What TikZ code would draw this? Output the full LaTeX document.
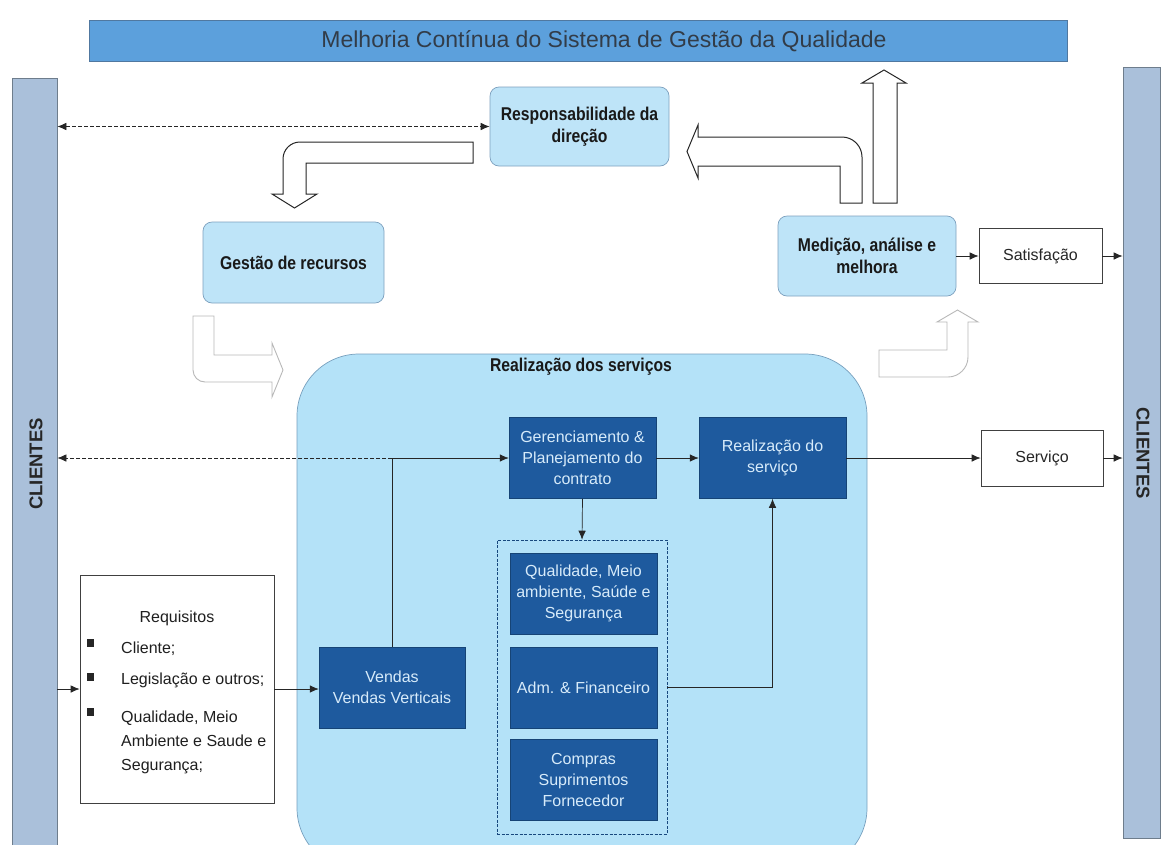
\documentclass[tikz,border=0pt]{standalone}
\usepackage{fontspec}
\setmainfont{Liberation Sans}
\newfontfamily\narrowfont[FakeStretch=0.85]{Liberation Sans}
\usetikzlibrary{arrows.meta}

\definecolor{bannerblue}{RGB}{92,160,220}
\definecolor{banneredge}{RGB}{80,120,160}
\definecolor{barblue}{RGB}{170,192,218}
\definecolor{baredge}{RGB}{110,125,140}
\definecolor{lightfill}{RGB}{190,228,248}
\definecolor{lightedge}{RGB}{125,160,190}
\definecolor{regionfill}{RGB}{180,226,248}
\definecolor{regionedge}{RGB}{120,160,190}
\definecolor{darkblue}{RGB}{30,90,158}
\definecolor{darktext}{RGB}{215,235,250}
\definecolor{bannertext}{RGB}{50,60,72}

\begin{document}
\begin{tikzpicture}[x=1pt,y=-1pt,
  lightbox/.style={draw=lightedge, fill=lightfill, rounded corners=9pt, line width=0.7pt,
    align=center, text=black!90, inner sep=2pt,
    font=\narrowfont\bfseries\fontsize{18.5}{22}\selectfont},
  darkbox/.style={draw=darkblue!75!black, fill=darkblue, line width=0.5pt, align=center,
    text=darktext, inner sep=0pt, minimum width=147pt, minimum height=81pt,
    font=\fontsize{16}{21}\selectfont},
  whitebox/.style={draw=black!75, fill=white, line width=0.7pt, text=black!85,
    font=\fontsize{16}{20}\selectfont},
  sidebar/.style={draw=baredge, fill=barblue, line width=0.7pt},
  sidelabel/.style={font=\bfseries\fontsize{18.5}{20}\selectfont, text=black!85},
  conn/.style={-{Latex[length=9pt,width=7.5pt]}, line width=0.7pt, draw=black!85},
  dconn/.style={conn, dash pattern=on 4pt off 2pt},
  blockarrow/.style={draw=black!85, fill=white, line width=1pt, line join=miter},
  softarrow/.style={draw=black!28, fill=white, line width=0.9pt, line join=miter},
  reqtext/.style={anchor=base west, inner sep=0pt, text=black!88,
    font=\fontsize{16}{20}\selectfont}
]
\useasboundingbox (0,0) rectangle (1161,844);

% title banner
\node[draw=banneredge, fill=bannerblue, line width=0.7pt,
      minimum width=978pt, minimum height=41pt, inner sep=0pt] (banner) at (578,41) {};
\node[text=bannertext, font=\fontsize{23}{26}\selectfont] (bannerlabel) at (604,41)
  {Melhoria Contínua do Sistema de Gestão da Qualidade};

% customer bars on both sides
\node[sidebar, minimum width=45pt, minimum height=772pt, inner sep=0pt] (leftbar) at (34.5,464) {};
\node[sidebar, minimum width=37pt, minimum height=771pt, inner sep=0pt] (rightbar) at (1141.5,452.5) {};
\node[sidelabel, rotate=90] (leftlabel) at (36,464) {CLIENTES};
\node[sidelabel, rotate=-90] (rightlabel) at (1143,453) {CLIENTES};

% service realisation area
\node[draw=regionedge, fill=regionfill, line width=0.7pt, rounded corners=62pt,
      minimum width=570pt, minimum height=516pt, inner sep=0pt] (region) at (582,612) {};
\node[font=\narrowfont\bfseries\fontsize{18.5}{22}\selectfont, text=black!90] (regionlabel)
  at (581,367) {Realização dos serviços};

% management boxes
\node[lightbox, minimum width=179pt, minimum height=79pt] (resp) at (579.5,126.5)
  {Responsabilidade da\\direção};
\node[lightbox, minimum width=181pt, minimum height=81pt] (gestao) at (293.5,262.5)
  {Gestão de recursos};
\node[lightbox, minimum width=178pt, minimum height=80pt] (medicao) at (867,256)
  {Medição, análise e\\melhora};

% outputs
\node[whitebox, minimum width=123pt, minimum height=55pt] (satisf) at (1040.5,256) {Satisfação};
\node[whitebox, minimum width=122pt, minimum height=56pt] (servico) at (1042,458) {Serviço};

% process boxes
\node[darkbox] (gerenc) at (582.5,458) {Gerenciamento \&\\Planejamento do\\contrato};
\node[darkbox] (realiz) at (772.5,458) {Realização do\\serviço};
\node[draw=darkblue!80!black, dash pattern=on 3pt off 1.5pt, line width=0.6pt,
      minimum width=170pt, minimum height=294pt, inner sep=0pt] (grupo) at (582,687) {};
\node[darkbox] (qual) at (583.5,593.5) {Qualidade, Meio\\ambiente, Saúde e\\Segurança};
\node[darkbox] (adm) at (583.5,687.5) {Adm. \& Financeiro};
\node[darkbox] (compras) at (583.5,779.5) {Compras\\Suprimentos\\Fornecedor};
\node[darkbox, minimum width=146pt] (vendas) at (392,687.5) {Vendas\\Vendas Verticais};

% requirements
\node[whitebox, minimum width=194pt, minimum height=228pt] (req) at (177,689) {};
\node[anchor=base, inner sep=0pt, text=black!88, font=\fontsize{16}{20}\selectfont]
  (reqtitle) at (177,622) {Requisitos};
\node[reqtext] (req1) at (121,653) {Cliente;};
\node[reqtext] (req2) at (121,684) {Legislação e outros;};
\node[reqtext] (req3a) at (121,722) {Qualidade, Meio};
\node[reqtext] (req3b) at (121,746) {Ambiente e Saude e};
\node[reqtext] (req3c) at (121,770) {Segurança;};
\fill[black!85] (87,638.5) rectangle (93.5,646.5);
\fill[black!85] (87,673) rectangle (93.5,681);
\fill[black!85] (87,708) rectangle (93.5,716);

% connectors
\draw[dconn, {Latex[length=9pt,width=7.5pt]}-{Latex[length=9pt,width=7.5pt]}]
  (leftbar.east |- resp.west) -- (resp.west);
\draw[conn] (medicao.east) -- (satisf.west);
\draw[conn] (satisf.east) -- (satisf.east -| rightbar.west);
\draw[conn] (realiz.east) -- (servico.west);
\draw[conn] (servico.east) -- (servico.east -| rightbar.west);
\draw[conn] (gerenc.east) -- (realiz.west);
\draw[conn] (gerenc.south) -- (grupo.north);
\draw[conn] (adm.east -| grupo.east) -| (realiz.south);
\draw[conn] (vendas.north) |- (gerenc.west);
\coordinate (junction) at (vendas.north |- gerenc.west);
\draw[dconn] (junction) -- (leftbar.east |- junction);
\draw[conn] (leftbar.east |- req.west) -- (req.west);
\draw[conn] (req.east) -- (req.east -| vendas.west);

% hollow block arrows of the improvement cycle
\draw[blockarrow] (473,142) -- (300,142) .. controls (290.6,142) and (283,149.6) .. (283,159)
  -- (283,194) -- (272,194) -- (294.5,208) -- (317,194) -- (306,194) -- (306,163)
  -- (473,163) -- cycle;
\draw[blockarrow] (840,203) -- (840,166) -- (698,166) -- (698,178) -- (687,151.5)
  -- (698,125) -- (698,137) -- (842,137) .. controls (853,137) and (862,146) .. (862,157)
  -- (862,203) -- cycle;
\draw[blockarrow] (873,203) -- (873,83) -- (862,83) -- (884,70) -- (906,83) -- (897,83)
  -- (897,203) -- cycle;
\draw[softarrow] (214,316) -- (214,355) -- (272,355) -- (272,343) -- (283,370) -- (272,397)
  -- (272,382) -- (205,382) .. controls (198.4,382) and (193,376.6) .. (193,370)
  -- (193,316) -- cycle;
\draw[softarrow] (879,350) -- (947,350) -- (947,322) -- (937,322) -- (957.5,310)
  -- (978,322) -- (968,322) -- (968,357) .. controls (968,368) and (959,377) .. (948,377)
  -- (879,377) -- cycle;
\end{tikzpicture}
\end{document}
